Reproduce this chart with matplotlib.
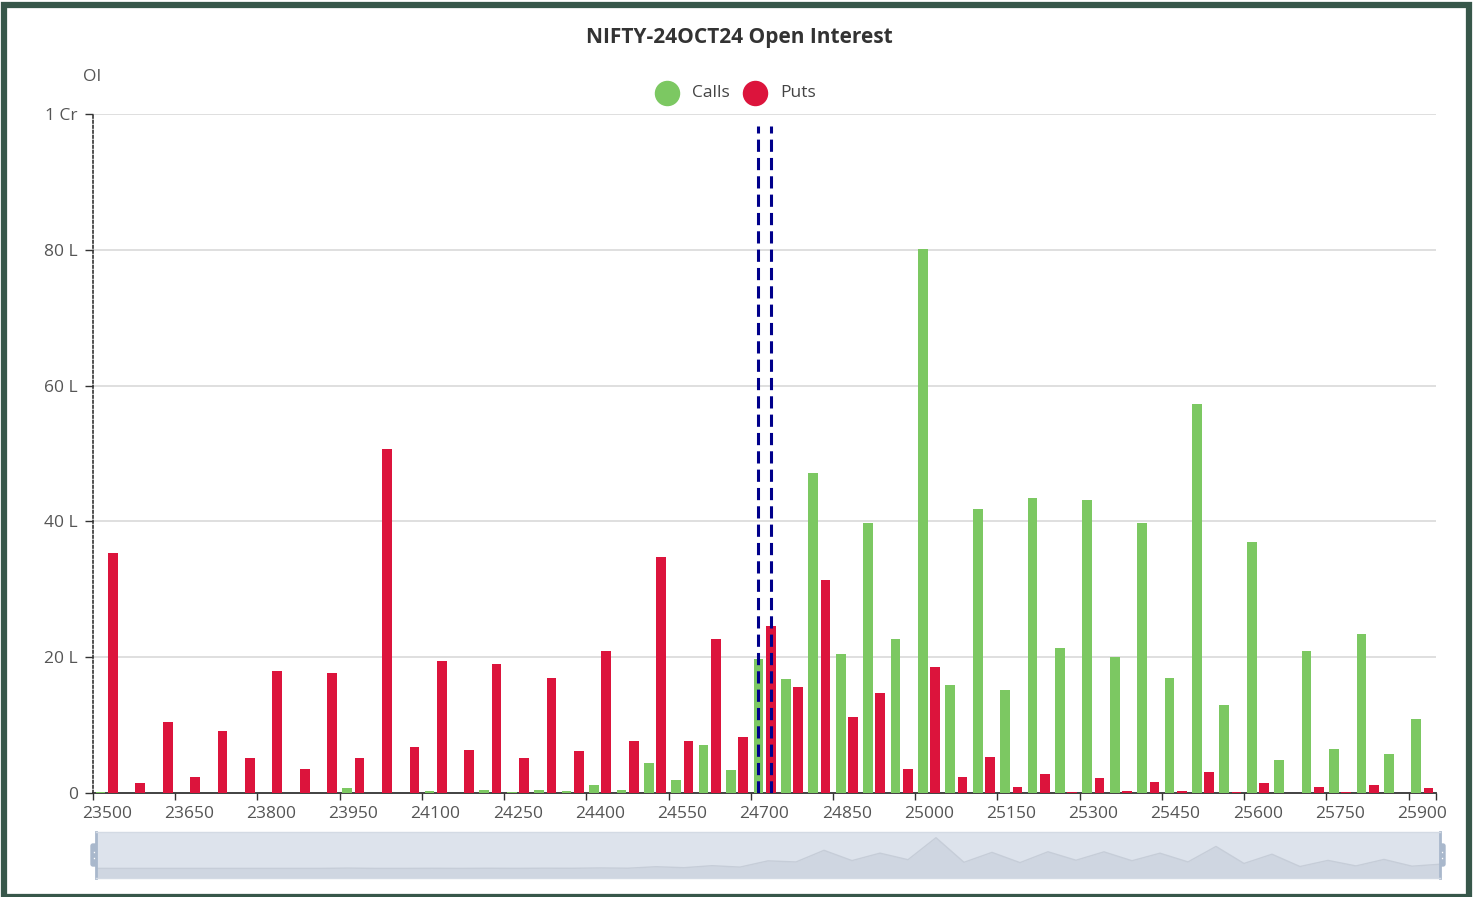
import matplotlib.pyplot as plt
from matplotlib.patches import Rectangle, FancyBboxPatch
import numpy as np

plt.rcParams['font.family'] = ['Open Sans', 'DejaVu Sans']

# strikes 23500 .. 25900 step 50
strikes = list(range(23500, 25901, 50))

# open interest in lakhs
calls = [0.1, 0, 0, 0, 0, 0, 0, 0, 0, 0.8, 0, 0,
         0.3, 0, 0.4, 0.1, 0.5, 0.3, 1.2, 0.5, 4.4, 1.9, 7.1, 3.4,
         19.7, 16.8, 47.2, 20.4, 39.8, 22.7, 80.1, 15.9, 41.8, 15.1, 43.4, 21.3,
         43.2, 20.0, 39.7, 16.9, 57.3, 12.9, 37.0, 4.9, 20.9, 6.5, 23.4, 5.8,
         10.9]
puts = [35.3, 1.5, 10.4, 2.4, 9.2, 5.2, 17.9, 3.6, 17.6, 5.1, 50.7, 6.8,
        19.4, 6.3, 19.0, 5.2, 16.9, 6.2, 20.9, 7.7, 34.8, 7.7, 22.7, 8.3,
        24.6, 15.6, 31.4, 11.2, 14.7, 3.6, 18.6, 2.3, 5.3, 0.9, 2.8, 0.2,
        2.2, 0.3, 1.6, 0.3, 3.1, 0.1, 1.4, 0, 0.9, 0.1, 1.2, 0,
        0.7]
atm_strike = 24700

W, H = 1477, 897
fig = plt.figure(figsize=(W / 100, H / 100), dpi=100)

green = '#7cc862'
red = '#dc143c'
navy = '#00008b'
txt = '#555555'

# outer dark green frame
fig.patches.append(Rectangle((4 / W, 1 - 897 / H), (1469 - 4) / W, (897 - 5) / H,
                             transform=fig.transFigure, fill=False,
                             edgecolor='#37574a', linewidth=4.5))

x0, x1, y0, y1 = 93, 1436, 793, 114
ax = fig.add_axes([x0 / W, 1 - y0 / H, (x1 - x0) / W, (y0 - y1) / H])

idx = np.arange(len(strikes))
bw = 0.355
ax.bar(idx - 0.222, calls, width=bw, color=green, zorder=3)
ax.bar(idx + 0.226, puts, width=bw, color=red, zorder=3)

ax.set_xlim(-0.5, len(strikes) - 0.5)
ax.set_ylim(0, 100)

# grid
for v in [20, 40, 60, 80, 100]:
    ax.axhline(v, color='#d9d9d9', linewidth=1.2, zorder=1)

ax.set_yticks([0, 20, 40, 60, 80, 100])
ax.set_yticklabels(['0', '20 L', '40 L', '60 L', '80 L', '1 Cr'])
ax.tick_params(axis='y', length=6, width=1, color='#333333', labelsize=12.5,
               labelcolor=txt, pad=5)

# x ticks at category boundaries, labels at centres
lab_idx = idx[::3]
ax.set_xticks(list(lab_idx - 0.5) + [len(strikes) - 0.5])
ax.set_xticklabels([''] * (len(lab_idx) + 1))
ax.tick_params(axis='x', length=5, width=1, color='#333333')
for i in lab_idx:
    ax.text(i, -1.9, str(strikes[i]), ha='center', va='top', fontsize=12.5,
            color=txt, clip_on=False)

for s in ['top', 'right']:
    ax.spines[s].set_visible(False)
ax.spines['bottom'].set_color('#333333')
ax.spines['bottom'].set_linewidth(1.3)
ax.spines['left'].set_linestyle((0, (1.5, 1.5)))
ax.spines['left'].set_color('#333333')
ax.spines['left'].set_linewidth(1.2)

# ATM dashed markers
k = strikes.index(atm_strike)
for off in (-0.222, 0.226):
    ax.plot([k + off, k + off], [0, 98.2], color=navy, linewidth=2.2,
            dashes=(4, 2), zorder=4)

# axis name
fig.text(92 / W, 1 - 77 / H, 'OI', ha='center', va='center', fontsize=12.5,
         color=txt)

# title
fig.text(739 / W, 1 - 37 / H, 'NIFTY-24OCT24 Open Interest', ha='center',
         va='center', fontsize=15, fontweight='bold', color='#333333')

# legend
lx = fig.add_axes([0, 0, 1, 1], facecolor='none')
lx.set_xlim(0, W)
lx.set_ylim(H, 0)
lx.axis('off')
lx.scatter([667], [93], s=300, color=green, zorder=5)
lx.scatter([755], [93], s=300, color=red, zorder=5)
lx.text(692, 93, 'Calls', ha='left', va='center', fontsize=12.5, color='#444444')
lx.text(780, 93, 'Puts', ha='left', va='center', fontsize=12.5, color='#444444')

# data zoom slider
sx0, sx1, sy0, sy1 = 96, 1440, 832, 878
sl = fig.add_axes([sx0 / W, 1 - sy1 / H, (sx1 - sx0) / W, (sy1 - sy0) / H])
sl.set_facecolor('#dde3ec')
sl.fill_between(idx, calls, -25, color='#cfd6e1', linewidth=0)
sl.plot(idx, calls, color='#c6cdd8', linewidth=1)
sl.set_xlim(0, len(strikes) - 1)
sl.set_ylim(-25, 95)
sl.set_xticks([])
sl.set_yticks([])
for s in sl.spines.values():
    s.set_color('#d3dae4')
    s.set_linewidth(1)
sl.spines['left'].set_color('#a9b8cc')
sl.spines['right'].set_color('#a9b8cc')
sl.spines['left'].set_linewidth(2)
sl.spines['right'].set_linewidth(2)
for hx in (sx0, sx1):
    lx.add_patch(FancyBboxPatch((hx - 5, 844), 10, 22,
                                boxstyle='round,pad=0,rounding_size=2',
                                facecolor='#a9b8cc', edgecolor='#a9b8cc', zorder=6))
    lx.plot([hx - 2, hx + 2], [852, 852], color='white', linewidth=1, zorder=7)
    lx.plot([hx - 2, hx + 2], [858, 858], color='white', linewidth=1, zorder=7)

fig.savefig('out.png', dpi=100)
